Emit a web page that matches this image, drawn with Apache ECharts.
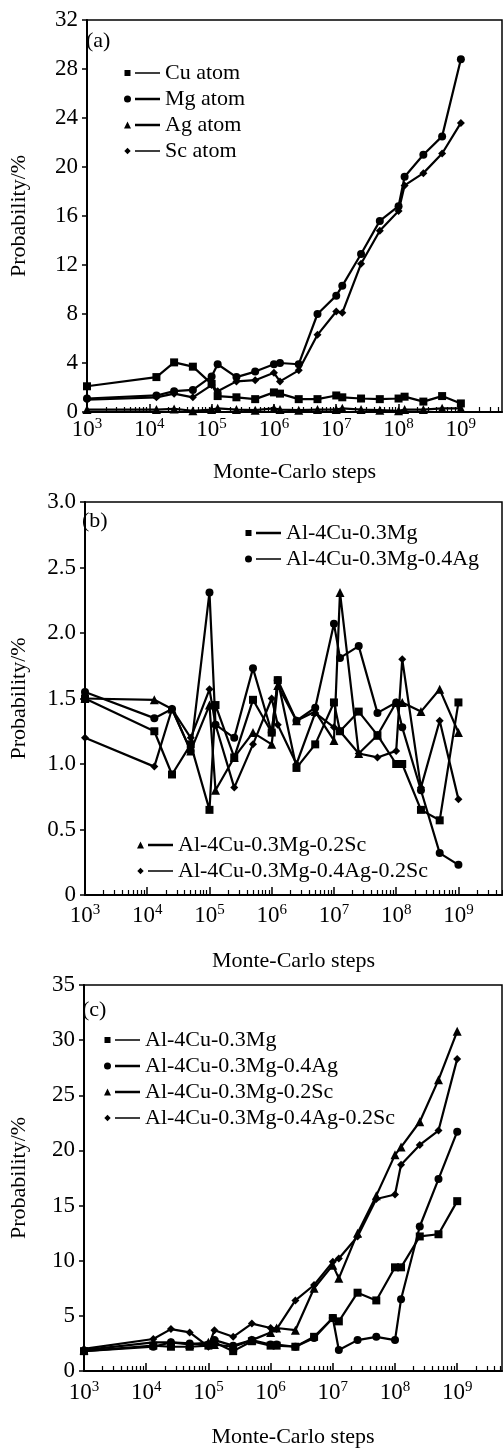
<!DOCTYPE html>
<html><head><meta charset="utf-8">
<script src="https://cdn.jsdelivr.net/npm/echarts@6/dist/echarts.min.js"></script>
<style>html,body{margin:0;padding:0;background:#fff}#c{width:503px;height:1449px}</style>
</head><body><div id="c"></div>
<script>
// ---- data ----
const steps = [1e3, 1.3e4, 2.5e4, 5e4, 1e5, 1.25e5, 2.5e5, 5e5, 1e6, 1.25e6, 2.5e6, 5e6, 1e7, 1.25e7, 2.5e7, 5e7, 1e8, 1.25e8, 2.5e8, 5e8, 1e9];
const xTickExps = [3, 4, 5, 6, 7, 8, 9];

// panel (a)
const aNames = ['Cu atom', 'Mg atom', 'Ag atom', 'Sc atom'];
const aCu = [2.1, 2.85, 4.05, 3.7, 2.3, 1.3, 1.2, 1.05, 1.6, 1.5, 1.05, 1.05, 1.35, 1.2, 1.1, 1.05, 1.1, 1.25, 0.85, 1.3, 0.7];
const aMg = [1.1, 1.35, 1.7, 1.8, 2.9, 3.9, 2.85, 3.3, 3.9, 4.0, 3.9, 8.0, 9.5, 10.3, 12.9, 15.6, 16.8, 19.2, 21.0, 22.5, 28.8];
const aAg = [0.2, 0.2, 0.25, 0.1, 0.2, 0.3, 0.2, 0.15, 0.3, 0.2, 0.15, 0.2, 0.2, 0.3, 0.2, 0.15, 0.1, 0.2, 0.2, 0.3, 0.3];
const aSc = [1.0, 1.2, 1.5, 1.2, 2.2, 1.7, 2.5, 2.6, 3.2, 2.5, 3.4, 6.3, 8.2, 8.1, 12.1, 14.8, 16.4, 18.5, 19.5, 21.1, 23.6];

// panels (b) and (c)
const alloyNames = ['Al-4Cu-0.3Mg', 'Al-4Cu-0.3Mg-0.4Ag', 'Al-4Cu-0.3Mg-0.2Sc', 'Al-4Cu-0.3Mg-0.4Ag-0.2Sc'];
const bCuMg   = [1.5, 1.25, 0.92, 1.15, 0.65, 1.45, 1.05, 1.49, 1.24, 1.64, 0.97, 1.15, 1.47, 1.25, 1.4, 1.22, 1.0, 1.0, 0.65, 0.57, 1.47];
const bAg     = [1.55, 1.35, 1.42, 1.1, 2.31, 1.3, 1.2, 1.73, 1.24, 1.64, 1.33, 1.43, 2.07, 1.81, 1.9, 1.39, 1.47, 1.28, 0.8, 0.32, 0.23];
const bSc     = [1.5, 1.49, 1.42, 1.1, 1.45, 0.8, 1.05, 1.24, 1.15, 1.6, 1.33, 1.4, 1.18, 2.31, 1.08, 1.22, 1.47, 1.47, 1.4, 1.57, 1.24];
const bAgSc   = [1.2, 0.98, 1.42, 1.2, 1.57, 1.3, 0.82, 1.15, 1.5, 1.3, 1.0, 1.39, 1.28, 1.25, 1.08, 1.05, 1.1, 1.8, 0.82, 1.33, 0.73];

const cCuMg   = [1.8, 2.3, 2.2, 2.2, 2.3, 2.6, 1.8, 2.7, 2.3, 2.3, 2.2, 3.1, 4.8, 4.5, 7.1, 6.4, 9.4, 9.4, 12.2, 12.4, 15.4];
const cAg     = [1.8, 2.2, 2.6, 2.5, 2.4, 2.8, 2.3, 2.8, 2.4, 2.4, 2.2, 3.0, 4.8, 1.9, 2.8, 3.1, 2.8, 6.5, 13.1, 17.4, 21.7];
const cSc     = [1.9, 2.6, 2.6, 2.4, 2.6, 2.4, 2.2, 2.8, 3.5, 3.9, 3.7, 7.5, 9.6, 8.4, 12.5, 15.9, 19.6, 20.3, 22.6, 26.4, 30.8];
const cAgSc   = [2.0, 2.9, 3.8, 3.5, 2.2, 3.7, 3.1, 4.3, 3.9, 3.8, 6.4, 7.8, 9.9, 10.2, 12.2, 15.6, 16.0, 18.7, 20.5, 21.8, 28.3];

// ---- styling ----
const F = "'Liberation Serif','Times New Roman',serif";
const BLACK = '#000';
const symbols = ['rect', 'circle', 'triangle', 'diamond'];
const symSizes = [8, 8, 9, 8];

function icon(shape, thick) {
  const t = thick ? 2.4 : 1.4;
  const y0 = (3.5 - t / 2).toFixed(2);
  const line = ' M11,' + y0 + 'H36V' + (3.5 + t / 2).toFixed(2) + 'H11Z';
  const shapes = {
    rect: 'M0.5,0.5H6.5V6.5H0.5Z',
    circle: 'M0,3.5A3.5,3.5,0,1,0,7,3.5A3.5,3.5,0,1,0,0,3.5Z',
    triangle: 'M3.5,0L7,7H0Z',
    diamond: 'M3.5,0.3L6.7,3.5L3.5,6.7L0.3,3.5Z'
  };
  return 'path://' + shapes[shape] + line + ' M0,0H0.01V7H0Z M35.99,0H36V7H35.99Z';
}

function mkLegend(names, idx, thick, left, top) {
  return {
    orient: 'vertical', left: left, top: top, itemGap: 4, itemWidth: 36, itemHeight: 7,
    selectedMode: false, padding: 0,
    data: names.map((n, i) => ({ name: n, icon: icon(symbols[idx[i]], thick[i]) })),
    itemStyle: { color: BLACK, borderWidth: 0 },
    textStyle: { fontFamily: F, fontSize: 22, color: BLACK, lineHeight: 22 }
  };
}

function mainX(gi, maxExp, margin, nameGap) {
  return {
    type: 'log', logBase: 10, gridIndex: gi, min: 1e3, max: Math.pow(10, maxExp),
    axisLine: { show: true, lineStyle: { color: BLACK, width: 2 } },
    axisTick: { show: true, inside: true, length: 8, lineStyle: { color: BLACK, width: 1.5 } },
    splitLine: { show: false }, minorTick: { show: false },
    axisLabel: {
      showMaxLabel: false, margin: margin, color: BLACK,
      formatter: v => '{b|10}{s|' + Math.round(Math.log10(v)) + '}',
      rich: {
        b: { fontFamily: F, fontSize: 23, color: BLACK, verticalAlign: 'bottom' },
        s: { fontFamily: F, fontSize: 15, color: BLACK, verticalAlign: 'bottom', padding: [0, 0, 9, 0] }
      }
    },
    name: 'Monte-Carlo steps', nameLocation: 'middle', nameGap: nameGap,
    nameTextStyle: { fontFamily: F, fontSize: 22, color: BLACK }
  };
}

function minorX(gi, maxExp) {
  const vals = [];
  xTickExps.forEach(e => { for (let k = 2; k <= 9; k++) { const v = e + Math.log10(k); if (v <= maxExp) vals.push(v); } });
  return {
    type: 'value', gridIndex: gi, min: 3, max: maxExp, position: 'bottom',
    axisLine: { show: false }, axisLabel: { show: false }, splitLine: { show: false },
    axisTick: { show: true, inside: true, length: 5, customValues: vals, lineStyle: { color: BLACK, width: 1.2 } }
  };
}

function mkY(gi, max, interval, fmt, nameGap) {
  return {
    type: 'value', gridIndex: gi, min: 0, max: max, interval: interval,
    axisLine: { show: true, lineStyle: { color: BLACK, width: 2 } },
    axisTick: { show: true, inside: false, length: 5, lineStyle: { color: BLACK, width: 1.5 } },
    splitLine: { show: false },
    axisLabel: { margin: 9, color: BLACK, fontFamily: F, fontSize: 23, formatter: fmt },
    name: 'Probability/%', nameLocation: 'middle', nameGap: nameGap, nameRotate: 90,
    nameTextStyle: { fontFamily: F, fontSize: 22, color: BLACK }
  };
}

function mkSeries(name, vals, si, gi) {
  return {
    type: 'line', name: name, xAxisIndex: gi, yAxisIndex: gi,
    data: steps.map((s, i) => [s, vals[i]]),
    symbol: symbols[si], symbolSize: symSizes[si], showSymbol: true,
    lineStyle: { color: BLACK, width: 2.2 }, itemStyle: { color: BLACK },
    animation: false, silent: true, z: 3
  };
}

const maxA = 9.66, maxB = 9.70, maxC = 9.72;

const option = {
  backgroundColor: '#fff',
  animation: false,
  title: [
    { text: '(a)', left: 86, top: 30, padding: 0, textStyle: { fontFamily: F, fontSize: 22, fontWeight: 'normal', color: BLACK } },
    { text: '(b)', left: 82, top: 510, padding: 0, textStyle: { fontFamily: F, fontSize: 22, fontWeight: 'normal', color: BLACK } },
    { text: '(c)', left: 82, top: 999, padding: 0, textStyle: { fontFamily: F, fontSize: 22, fontWeight: 'normal', color: BLACK } }
  ],
  grid: [
    { left: 76, top: 20, width: 426, height: 392, show: true, borderColor: BLACK, borderWidth: 1.5, backgroundColor: 'transparent' },
    { left: 73, top: 502, width: 429, height: 393, show: true, borderColor: BLACK, borderWidth: 1.5, backgroundColor: 'transparent' },
    { left: 72, top: 985, width: 430, height: 397, show: true, borderColor: BLACK, borderWidth: 1.5, backgroundColor: 'transparent' }
  ],
  xAxis: [
    mainX(0, maxA, 5, 49), mainX(1, maxB, 8, 55), mainX(2, maxC, 9, 55),
    minorX(0, maxA), minorX(1, maxB), minorX(2, maxC)
  ],
  yAxis: [
    mkY(0, 32, 4, v => String(v), 57),
    mkY(1, 3.0, 0.5, v => (v === 0 ? '0' : v.toFixed(1)), 55),
    mkY(2, 35, 5, v => String(v), 54)
  ],
  legend: [
    mkLegend(aNames, [0, 1, 2, 3], [false, true, true, false], 124, 62),
    mkLegend(alloyNames.slice(0, 2), [0, 1], [true, false], 245, 522),
    mkLegend(alloyNames.slice(2, 4), [2, 3], [true, false], 137, 834),
    mkLegend(alloyNames, [0, 1, 2, 3], [false, true, true, false], 104, 1029)
  ],
  series: [
    mkSeries(aNames[0], aCu, 0, 0),
    mkSeries(aNames[1], aMg, 1, 0),
    mkSeries(aNames[2], aAg, 2, 0),
    mkSeries(aNames[3], aSc, 3, 0),
    mkSeries(alloyNames[0], bCuMg, 0, 1),
    mkSeries(alloyNames[1], bAg, 1, 1),
    mkSeries(alloyNames[2], bSc, 2, 1),
    mkSeries(alloyNames[3], bAgSc, 3, 1),
    mkSeries(alloyNames[0], cCuMg, 0, 2),
    mkSeries(alloyNames[1], cAg, 1, 2),
    mkSeries(alloyNames[2], cSc, 2, 2),
    mkSeries(alloyNames[3], cAgSc, 3, 2)
  ]
};

const chart = echarts.init(document.getElementById('c'), null, { renderer: 'canvas' });
chart.setOption(option);
</script>
</body></html>
